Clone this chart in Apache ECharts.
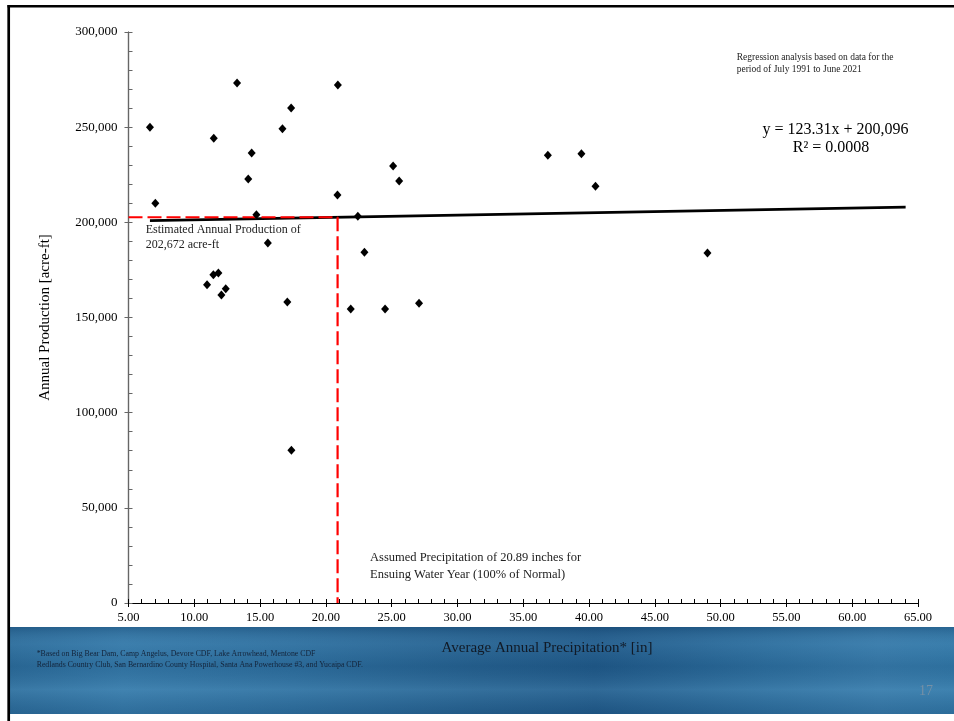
<!DOCTYPE html>
<html>
<head>
<meta charset="utf-8">
<script src="https://cdn.jsdelivr.net/npm/echarts@6/dist/echarts.min.js"></script>
<style>
html,body{margin:0;padding:0;background:#fff;}
#chart{width:954px;height:721px;}
</style>
</head>
<body>
<div id="chart"></div>
<script>
// Average annual precipitation [in] (x) and annual production [acre-ft] (y)
const precipitation = [6.63, 7.04, 13.25, 11.48, 14.36, 14.10, 14.72, 15.59, 16.70, 17.36,
  20.91, 20.88, 22.43, 22.93, 25.11, 25.57, 10.97, 11.45, 11.83, 12.06,
  12.39, 17.07, 21.89, 24.50, 27.08, 36.87, 39.42, 40.49, 49.00, 17.38];
const production = [250000, 210000, 273200, 244150, 236430, 222770, 204010, 189140, 249200, 260070,
  272160, 214360, 203170, 184260, 229600, 221720, 167230, 172490, 173380, 161820,
  165130, 158150, 154470, 154470, 157460, 235220, 236060, 218930, 183890, 80230];
// Trend line end points (x, y)
const trendX = [6.63, 64.06];
const trendY = [200914, 207995];
// Estimate guide: assumed precipitation and estimated production
const assumedPrecip = 20.89;
const estimatedProd = 202672;
// Axis ranges
const xTicks = {min: 5, max: 65, interval: 5};
const yTicks = {min: 0, max: 300000, interval: 50000};

const points = precipitation.map((x, i) => [x, production[i]]);
const trend = trendX.map((x, i) => [x, trendY[i]]);
const guide = [[xTicks.min, estimatedProd], [assumedPrecip, estimatedProd], [assumedPrecip, yTicks.min]];

const chart = echarts.init(document.getElementById('chart'), null, {renderer: 'canvas'});
const serif = '"Liberation Serif", "Times New Roman", serif';

const baseX = {
  type: 'value', min: xTicks.min, max: xTicks.max, interval: xTicks.interval,
  splitLine: {show: false},
  axisLine: {show: true, onZero: false, lineStyle: {color: '#000', width: 1.2}}
};
const baseY = {
  type: 'value', min: yTicks.min, max: yTicks.max, interval: yTicks.interval,
  splitLine: {show: false},
  axisLine: {show: true, onZero: false, lineStyle: {color: '#666', width: 1.2}}
};

chart.setOption({
  animation: false,
  backgroundColor: '#fff',
  textStyle: {fontFamily: serif},
  grid: {left: 128.5, right: 36, top: 32, bottom: 118, containLabel: false},
  xAxis: [
    Object.assign({}, baseX, {
      position: 'bottom',
      axisTick: {show: true, inside: false, length: 4, lineStyle: {color: '#000'}},
      minorTick: {show: false},
      axisLabel: {show: true, margin: 8, color: '#000', fontSize: 12.5, fontFamily: serif,
        formatter: v => v.toFixed(2)}
    }),
    Object.assign({}, baseX, {
      position: 'bottom',
      axisTick: {show: true, inside: true, length: 4, lineStyle: {color: '#000'}},
      minorTick: {show: true, splitNumber: 5, length: 4, lineStyle: {color: '#000', width: 1}},
      axisLabel: {show: false}
    })
  ],
  yAxis: [
    Object.assign({}, baseY, {
      position: 'left',
      name: 'Annual Production [acre-ft]',
      nameLocation: 'middle', nameGap: 76,
      nameTextStyle: {fontSize: 15, color: '#000', fontFamily: serif},
      axisTick: {show: true, inside: false, length: 4, lineStyle: {color: '#666'}},
      minorTick: {show: false},
      axisLabel: {show: true, margin: 11, color: '#000', fontSize: 13, fontFamily: serif,
        formatter: v => v.toLocaleString('en-US')}
    }),
    Object.assign({}, baseY, {
      position: 'left',
      axisTick: {show: true, inside: true, length: 4, lineStyle: {color: '#666'}},
      minorTick: {show: true, splitNumber: 5, length: 4, lineStyle: {color: '#666', width: 1}},
      axisLabel: {show: false}
    })
  ],
  series: [
    {
      type: 'line', name: 'trend', data: trend, xAxisIndex: 0, yAxisIndex: 0,
      showSymbol: false, symbol: 'none', z: 3,
      lineStyle: {color: '#000', width: 2.6}
    },
    {
      type: 'line', name: 'guide', data: guide, xAxisIndex: 0, yAxisIndex: 0,
      showSymbol: false, symbol: 'none', z: 4,
      lineStyle: {color: '#ff0000', width: 2.2, type: [14, 5]}
    },
    {
      type: 'scatter', name: 'data', data: points, xAxisIndex: 0, yAxisIndex: 0,
      symbol: 'diamond', symbolSize: [8, 9], z: 5,
      itemStyle: {color: '#000', opacity: 1}
    }
  ],
  graphic: [
    // blue band
    {type: 'rect', z: -20, silent: true,
      shape: {x: 10, y: 627, width: 944, height: 87},
      style: {fill: new echarts.graphic.LinearGradient(0, 0, 1, 0, [
        {offset: 0, color: '#2b6b99'},
        {offset: 0.12, color: '#3478a7'},
        {offset: 0.3, color: '#2d6e9d'},
        {offset: 0.5, color: '#245f8d'},
        {offset: 0.62, color: '#1f5887'},
        {offset: 0.8, color: '#2c6d9c'},
        {offset: 0.92, color: '#3679a8'},
        {offset: 1, color: '#3177a6'}
      ])}},
    {type: 'rect', z: -19, silent: true,
      shape: {x: 10, y: 627, width: 944, height: 87},
      style: {fill: new echarts.graphic.LinearGradient(0, 0, 0, 1, [
        {offset: 0, color: 'rgba(15,55,95,0.30)'},
        {offset: 0.2, color: 'rgba(120,175,215,0.12)'},
        {offset: 0.45, color: 'rgba(20,60,100,0.12)'},
        {offset: 0.72, color: 'rgba(110,170,210,0.22)'},
        {offset: 1, color: 'rgba(20,60,100,0.18)'}
      ])}},
    // slide border
    {type: 'line', z: 50, silent: true, shape: {x1: 8.7, y1: 5, x2: 8.7, y2: 721},
      style: {stroke: '#000', lineWidth: 2.7}},
    {type: 'line', z: 50, silent: true, shape: {x1: 7.5, y1: 6.2, x2: 954, y2: 6.2},
      style: {stroke: '#000', lineWidth: 2.5}},
    // texts
    {type: 'text', z: 60, left: 736.7, top: 51, silent: true,
      style: {text: 'Regression analysis based on data for the\nperiod of July 1991 to June 2021',
        font: '9.5px ' + serif, fill: '#222', lineHeight: 12}},
    {type: 'text', z: 60, silent: true, x: 835.5, y: 129.3,
      style: {text: 'y = 123.31x + 200,096', font: '16px ' + serif, fill: '#000',
        align: 'center', verticalAlign: 'middle'}},
    {type: 'text', z: 60, silent: true, x: 831, y: 148,
      style: {text: 'R² = 0.0008', font: '16px ' + serif, fill: '#000',
        align: 'center', verticalAlign: 'middle'}},
    {type: 'text', z: 60, left: 145.7, top: 223, silent: true,
      style: {text: 'Estimated Annual Production of\n202,672 acre-ft',
        font: '12px ' + serif, fill: '#222', lineHeight: 14.5}},
    {type: 'text', z: 60, left: 370, top: 549.5, silent: true,
      style: {text: 'Assumed Precipitation of 20.89 inches for\nEnsuing Water Year (100% of Normal)',
        font: '12.5px ' + serif, fill: '#222', lineHeight: 16.5}},
    {type: 'text', z: 60, silent: true, x: 547, y: 648.5,
      style: {text: 'Average Annual Precipitation* [in]', font: '15px ' + serif, fill: '#111a26',
        align: 'center', verticalAlign: 'middle'}},
    {type: 'text', z: 60, left: 36.7, top: 648, silent: true,
      style: {text: '*Based on Big Bear Dam, Camp Angelus, Devore CDF, Lake Arrowhead, Mentone CDF\nRedlands Country Club, San Bernardino County Hospital, Santa Ana Powerhouse #3, and Yucaipa CDF.',
        font: '7.8px ' + serif, fill: '#14243a', lineHeight: 11}},
    {type: 'text', z: 60, silent: true, x: 926, y: 691,
      style: {text: '17', font: '14px ' + serif, fill: '#7590a6',
        align: 'center', verticalAlign: 'middle'}}
  ]
});
</script>
</body>
</html>
